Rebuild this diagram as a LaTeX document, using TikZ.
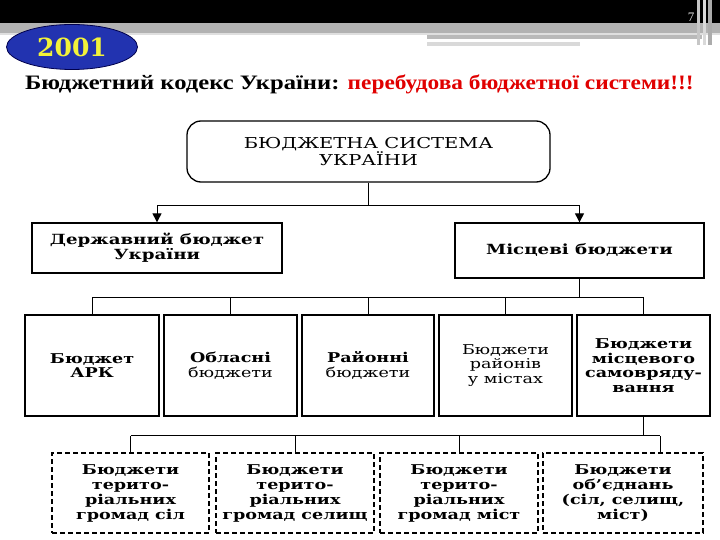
\documentclass[tikz,border=0pt]{standalone}
\usepackage{fontspec}
\setmainfont{Liberation Serif}
\newfontfamily\diag[FakeStretch=1.3]{DejaVu Serif}
\newfontfamily\yearfont{DejaVu Serif}
\newfontfamily\titleA[FakeStretch=1.2]{Liberation Serif}
\newfontfamily\titleB[FakeStretch=1.14]{Liberation Serif}
\usetikzlibrary{arrows.meta,shapes.geometric}
\definecolor{yearblue}{HTML}{2233B0}
\definecolor{yearyellow}{HTML}{F2F23A}
\definecolor{titlered}{HTML}{E00000}
\begin{document}
\begin{tikzpicture}[x=1pt,y=-1pt,
  box/.style={draw=black, line width=1.3pt, fill=white, align=center, inner sep=0pt,
    font=\diag\bfseries\fontsize{13.5}{14.5}\selectfont},
  dbox/.style={box, dash pattern=on 5pt off 3pt, font=\diag\bfseries\fontsize{13.5}{15}\selectfont},
  conn/.style={line width=1pt},
  arr/.style={conn, -{Triangle[length=9pt,width=9pt]}}]
\useasboundingbox (0,0) rectangle (720,540);
% header
\fill[black] (0,0) rectangle (720,23);
\fill[gray!60] (0,23) rectangle (720,33);
\fill[gray!25] (0,33) rectangle (720,35);
\fill[gray!55] (427,35) rectangle (702,39);
\fill[gray!30] (427,42) rectangle (580,46);
\fill[gray!45] (697,0) rectangle (700,45);
\fill[gray!30] (703,0) rectangle (706,45);
\fill[gray!65] (708,0) rectangle (712,45);
\node[text=gray!25, font=\fontsize{13}{13}\selectfont] (pg) at (691,17) {7};
\node[ellipse, draw=blue!30!black, line width=0.8pt, fill=yearblue, minimum width=131pt, minimum height=45pt,
  text=yearyellow, font=\yearfont\bfseries\fontsize{25}{25}\selectfont] (yr) at (72,47) {2001};
\node[anchor=base west, inner sep=0pt, font=\fontsize{20.5}{22}\selectfont] (title) at (25,90)
  {\titleA\bfseries Бюджетний кодекс України: \titleB\bfseries\textcolor{titlered}{перебудова бюджетної системи!!!}};
% level 1
\node[box, rounded corners=14pt, minimum width=363pt, minimum height=61pt, font=\diag\fontsize{15}{17}\selectfont] (top) at (368.5,151.5)
  {БЮДЖЕТНА СИСТЕМА\\УКРАЇНИ};
% level 2
\node[box, minimum width=250pt, minimum height=50pt, font=\diag\bfseries\fontsize{14}{15}\selectfont] (st) at (157,248) {Державний бюджет\\України};
\node[box, minimum width=249pt, minimum height=55pt, font=\diag\bfseries\fontsize{14}{15}\selectfont] (mi) at (579.5,250.5) {Місцеві бюджети};
% level 3
\node[box, minimum width=134pt, minimum height=101pt] (b1) at (92,365.5) {Бюджет\\АРК};
\node[box, minimum width=133pt, minimum height=101pt] (b2) at (230.5,365.5) {Обласні\\\mdseries бюджети};
\node[box, minimum width=132pt, minimum height=101pt] (b3) at (368,365.5) {Районні\\\mdseries бюджети};
\node[box, minimum width=133pt, minimum height=101pt, font=\diag\fontsize{13.5}{14.5}\selectfont] (b4) at (505.5,365.5) {Бюджети\\районів\\у містах};
\node[box, minimum width=133pt, minimum height=101pt] (b5) at (643.5,365.5) {Бюджети\\місцевого\\самовряду-\\вання};
% level 4
\node[dbox, minimum width=157pt, minimum height=80pt] (d1) at (130.5,493) {Бюджети\\терито-\\ріальних\\громад сіл};
\node[dbox, minimum width=158pt, minimum height=80pt] (d2) at (295,493) {Бюджети\\терито-\\ріальних\\громад селищ};
\node[dbox, minimum width=158pt, minimum height=80pt] (d3) at (459,493) {Бюджети\\терито-\\ріальних\\громад міст};
\node[dbox, minimum width=160pt, minimum height=80pt] (d4) at (623,493) {Бюджети\\об’єднань\\(сіл, селищ,\\міст)};
% connectors
\draw[conn] (top.south) -- ++(0,23) coordinate (j0);
\draw[arr] (j0) -| (st.north);
\draw[arr] (j0) -| (mi.north);
\draw[conn] (mi.south) -- ++(0,19) coordinate (j1);
\draw[conn] (b1.north |- j1) -- (b5.north |- j1);
\foreach \b in {b1,b2,b3,b4,b5} \draw[conn] (\b.north) -- (\b.north |- j1);
\draw[conn] (b5.south) -- ++(0,19) coordinate (j2);
\coordinate (d4c) at ([xshift=37pt]d4.north);
\draw[conn] (d1.north |- j2) -- (d4c |- j2);
\foreach \b in {d1,d2,d3,d4c} \draw[conn] (\b.north) -- (\b.north |- j2);
\end{tikzpicture}
\end{document}
